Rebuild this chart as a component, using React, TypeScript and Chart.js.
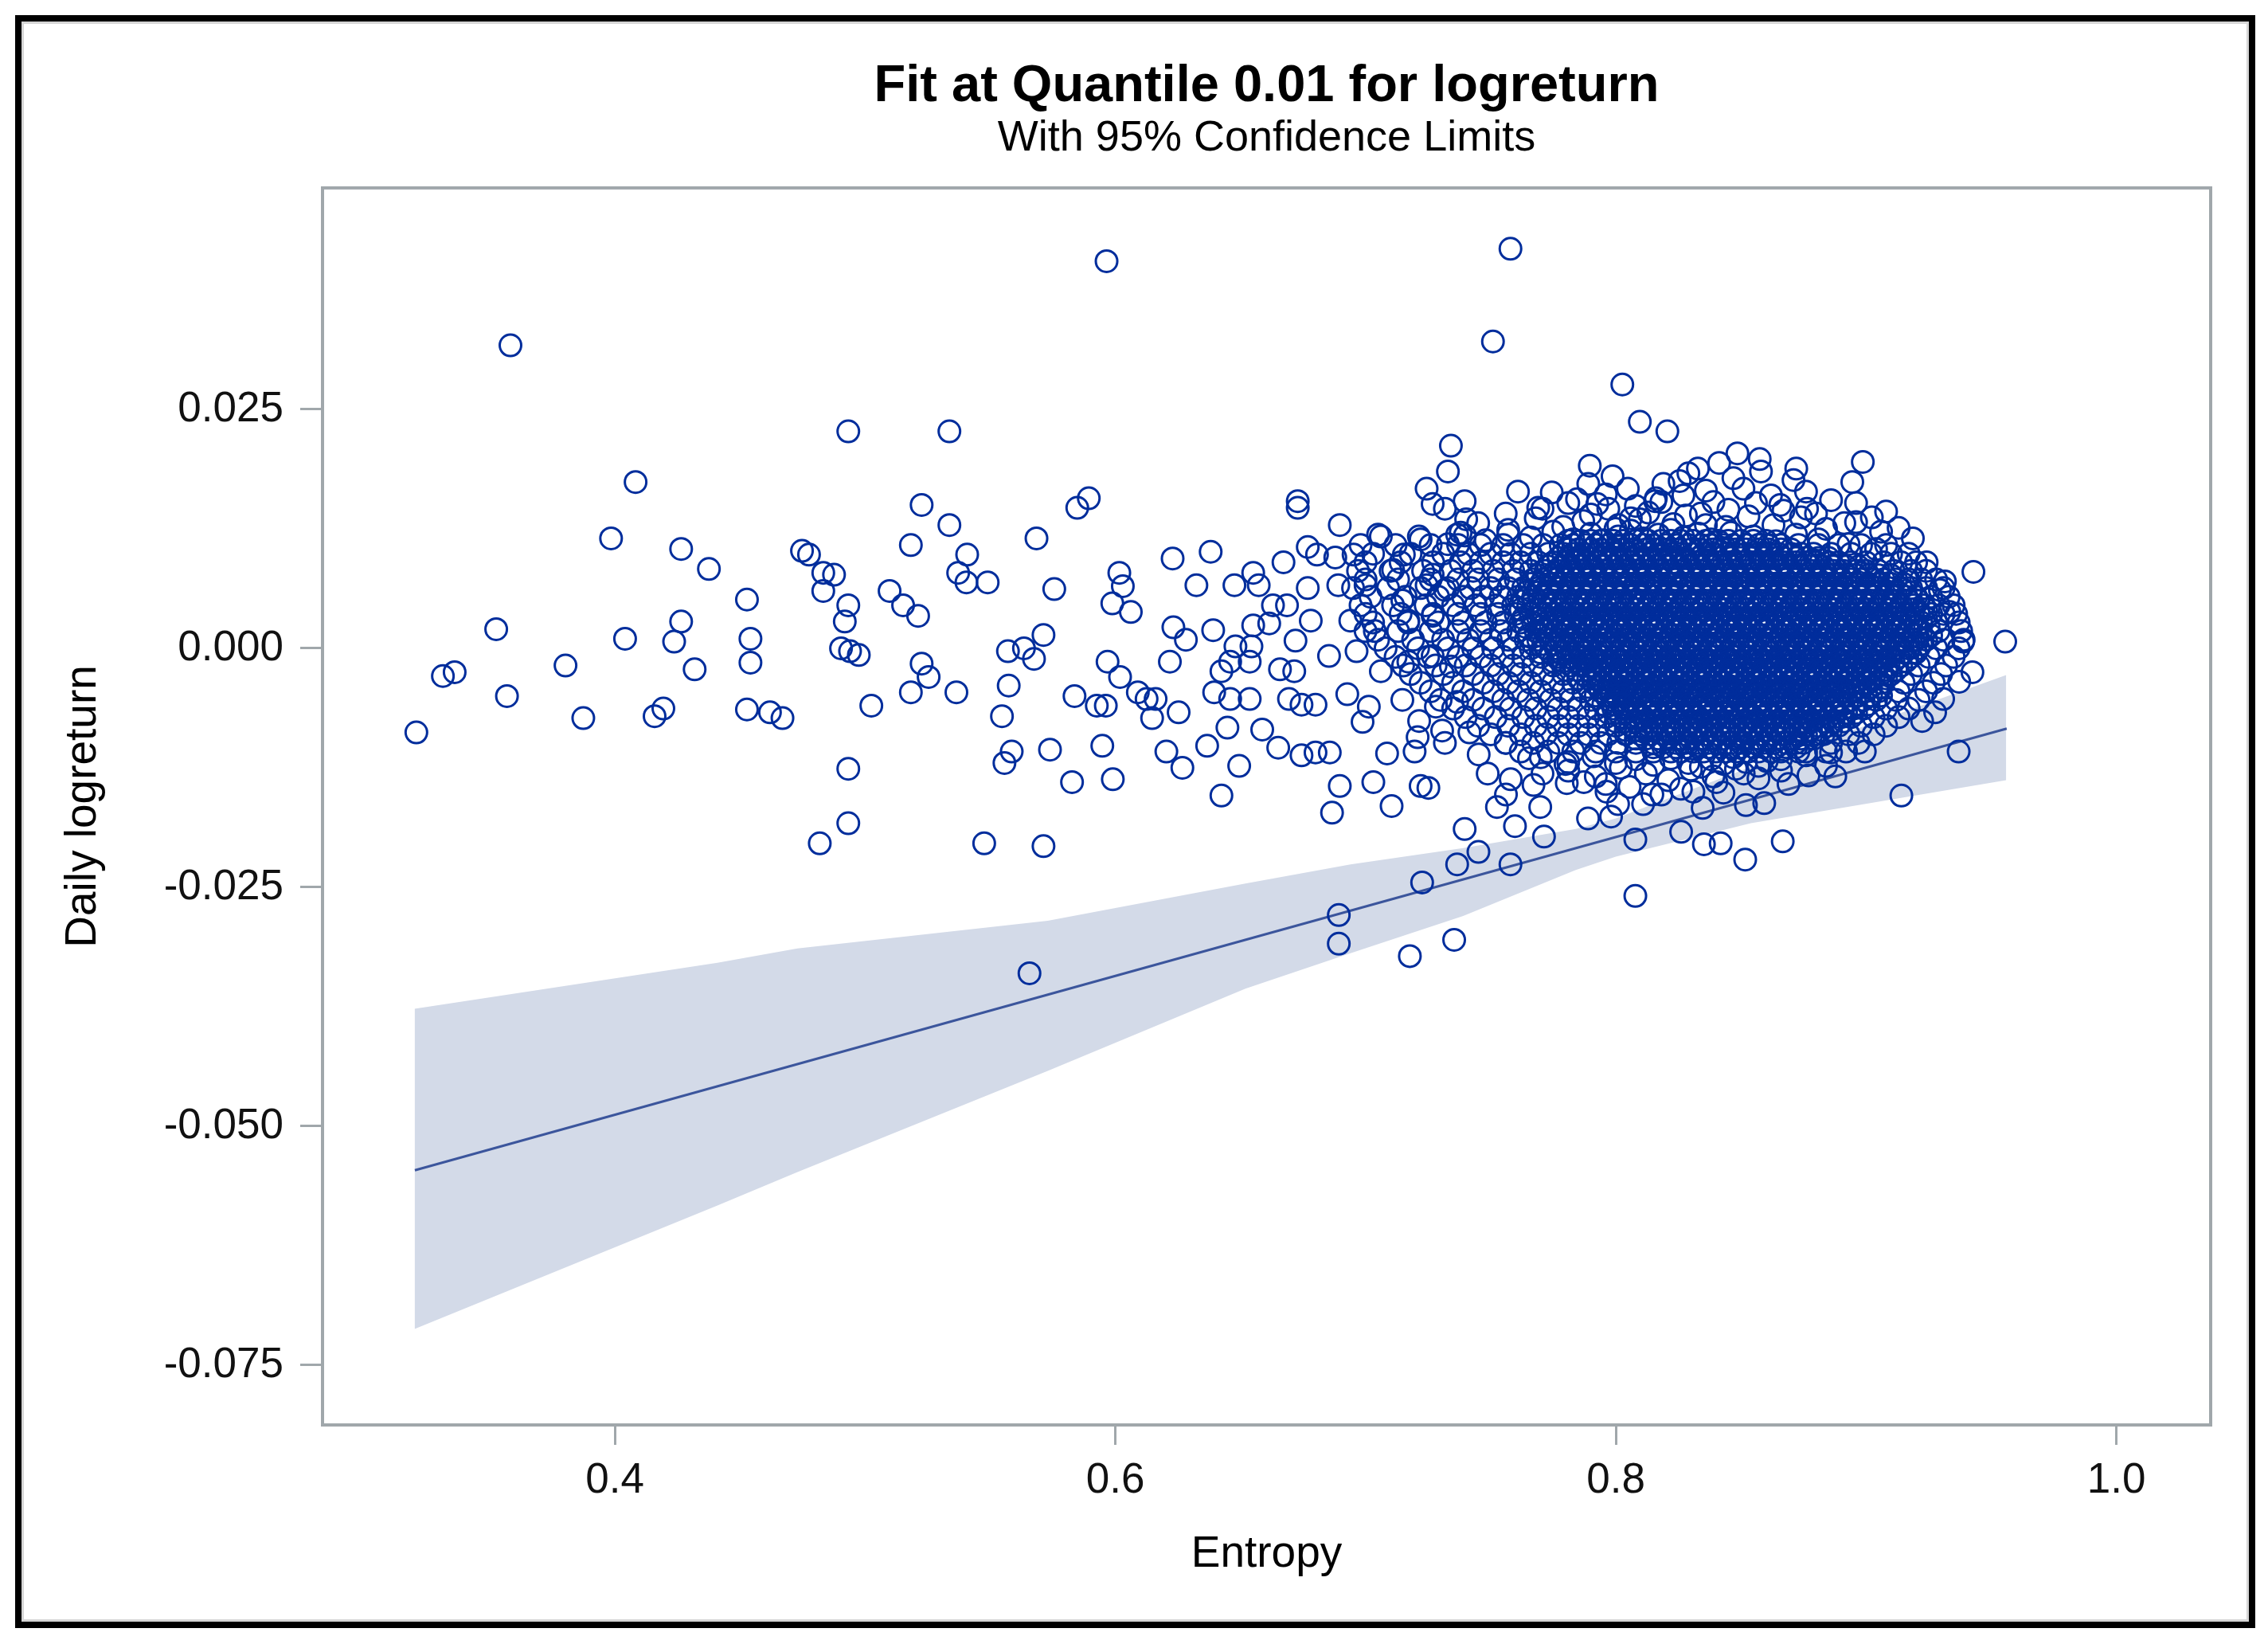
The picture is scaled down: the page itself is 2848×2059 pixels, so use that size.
import { useEffect, useRef } from "react"
import { Chart, registerables } from "chart.js"

Chart.register(...registerables)

Chart.defaults.font.family = "'Liberation Sans', Arial, Helvetica, sans-serif"

const entropyTicks = [0.4, 0.6, 0.8, 1.0]
const returnTicks = [0.025, 0, -0.025, -0.05, -0.075]

// quantile 0.01 regression line (end points)
const fitEntropy = [0.3201, 0.9562]
const fitReturn = [-0.0546, -0.0084]

// 95% confidence limits
const bandEntropy = [0.320, 0.441, 0.473, 0.573, 0.652, 0.694, 0.739, 0.784, 0.800, 0.854, 0.956]
const bandUpper = [-0.0377, -0.0329, -0.0314, -0.0285, -0.0246, -0.0226, -0.0209, -0.0189, -0.0178, -0.0124, -0.0028]
const bandLower = [-0.0712, -0.0583, -0.0548, -0.0442, -0.0356, -0.0319, -0.0280, -0.0232, -0.0218, -0.0183, -0.0138]

// separate observations: [entropy, daily logreturn]
const observations: [number, number][] = [
  [0.3207, -0.0088], [0.3313, -0.0029], [0.336, -0.0025], [0.3526, 0.002], [0.3569, -0.005], [0.3583, 0.0317],
  [0.3803, -0.0018], [0.3874, -0.0073], [0.3985, 0.0115], [0.4041, 0.001], [0.4083, 0.0174], [0.4159, -0.0071],
  [0.4194, -0.0063], [0.4237, 0.0007], [0.4265, 0.0104], [0.4265, 0.0028], [0.4319, -0.0022], [0.4376, 0.0083],
  [0.4528, 0.0051], [0.4542, 0.001], [0.4542, -0.0015], [0.4528, -0.0064], [0.462, -0.0067], [0.467, -0.0073],
  [0.4748, 0.0102], [0.4776, 0.0098], [0.4819, -0.0204], [0.4833, 0.0079], [0.4876, 0.0077], [0.4833, 0.006],
  [0.4933, 0.0045], [0.4919, 0.0028], [0.4904, 0.0], [0.494, -0.0003], [0.4975, -0.0007], [0.4933, 0.0227],
  [0.4933, -0.0126], [0.4933, -0.0183], [0.5025, -0.006],
  [0.5098, 0.006], [0.5152, 0.0045], [0.5183, 0.0108], [0.5183, -0.0046], [0.5212, 0.0034], [0.5226, 0.015],
  [0.5226, -0.0016], [0.5254, -0.003], [0.5337, 0.0227], [0.5337, 0.0129], [0.5365, -0.0046], [0.5372, 0.0079],
  [0.5405, 0.0069], [0.5408, 0.0098], [0.5476, -0.0204], [0.549, 0.0069], [0.5547, -0.0071], [0.5557, -0.012],
  [0.5571, -0.0003], [0.5574, -0.0039], [0.5586, -0.0108], [0.5635, 0.0], [0.5657, -0.034], [0.5675, -0.0011],
  [0.5685, 0.0115], [0.5713, 0.0014], [0.5713, -0.0207], [0.5739, -0.0106], [0.5756, 0.0062], [0.5827, -0.014],
  [0.5837, -0.005], [0.5848, 0.0147], [0.5894, 0.0157], [0.5926, -0.006], [0.5948, -0.0102], [0.5962, -0.006],
  [0.5965, 0.0405], [0.5969, -0.0014], [0.5988, 0.0047], [0.599, -0.0137], [0.6016, 0.0079], [0.6019, -0.003],
  [0.603, 0.0065], [0.6062, 0.0038], [0.609, -0.0046], [0.6125, -0.0053], [0.6147, -0.0073], [0.6161, -0.0053],
  [0.6204, -0.0108], [0.6218, -0.0014], [0.6229, 0.0094], [0.6232, 0.0022], [0.6253, -0.0067], [0.6268, -0.0125],
  [0.6282, 0.0009], [0.6324, 0.0066], [0.6367, -0.0102], [0.6381, 0.0101], [0.6391, 0.0019], [0.6395, -0.0046],
  [0.6424, -0.0154], [0.6424, -0.0024], [0.6448, -0.0083], [0.6459, -0.0053], [0.6459, -0.0014], [0.6476, 0.0066],
  [0.648, 0.0002], [0.6495, -0.0123], [0.6537, -0.0053], [0.6537, -0.0014], [0.6544, 0.0002], [0.6551, 0.0079],
  [0.6551, 0.0024], [0.6573, 0.0066], [0.6587, -0.0085], [0.6615, 0.0026], [0.663, 0.0045], [0.6651, -0.0104],
  [0.6658, -0.0022], [0.6672, 0.009], [0.6686, 0.0045], [0.6694, -0.0053], [0.6715, -0.0024], [0.672, 0.0008],
  [0.6729, 0.0154], [0.6729, 0.0147], [0.6744, -0.0059], [0.6744, -0.0112], [0.6769, 0.0106], [0.6769, 0.0063],
  [0.6781, 0.0029], [0.68, -0.0059], [0.68, -0.0109], [0.6806, 0.0098], [0.6854, -0.0008], [0.6857, -0.0109],
  [0.6866, -0.0172], [0.6879, 0.0095], [0.6891, 0.0066], [0.6893, -0.0279], [0.6893, -0.0309], [0.6897, 0.0129],
  [0.6897, -0.0144], [0.6927, -0.0048], [0.6939, 0.0029], [0.6952, 0.0098], [0.6964, -0.0003], [0.6988, -0.0077],
  [0.7, 0.0066], [0.7013, -0.0061], [0.7031, -0.014], [0.7037, 0.0018], [0.7061, 0.0117], [0.7061, -0.0024],
  [0.7086, -0.011], [0.7104, -0.0165], [0.711, 0.0082], [0.7147, 0.005], [0.7147, -0.0054], [0.7153, 0.0098],
  [0.7171, 0.0029], [0.7171, -0.0014], [0.7177, -0.0322], [0.7196, -0.0108], [0.7208, -0.0093], [0.7213, 0.0117],
  [0.7214, -0.0076], [0.722, -0.0144], [0.7226, -0.0245], [0.7244, 0.0066], [0.7244, 0.0167], [0.7251, -0.0146],
  [0.7268, 0.0077], [0.7268, 0.0034], [0.7268, -0.0008], [0.7268, 0.0151], [0.7281, -0.0061], [0.7306, -0.0086],
  [0.7317, 0.0061], [0.7317, 0.0146], [0.7317, -0.0099], [0.7329, 0.0185], [0.7329, 0.0109], [0.7341, 0.0212],
  [0.7341, -0.0019], [0.7354, -0.0305], [0.7366, -0.0226], [0.7366, 0.0119], [0.7366, -0.0056], [0.7396, -0.0189],
  [0.7396, 0.0154], [0.7397, 0.0118], [0.7402, 0.0135], [0.7415, -0.0088], [0.7451, -0.0213], [0.7452, -0.0111],
  [0.7488, -0.0131], [0.7509, 0.0321], [0.7525, -0.0166], [0.7561, -0.0153], [0.7561, -0.0099], [0.7579, 0.0418],
  [0.7579, -0.0226], [0.758, -0.0137], [0.7597, -0.0186], [0.7609, 0.0164], [0.7653, -0.0115], [0.7671, -0.0143],
  [0.7698, -0.0166], [0.7707, 0.0146], [0.7707, -0.0131], [0.7713, -0.0197], [0.7744, 0.0163], [0.7799, -0.0121],
  [0.7804, -0.0141], [0.7845, 0.0156], [0.7872, -0.014], [0.7889, -0.0178], [0.789, 0.0172], [0.7896, 0.0191],
  [0.7926, 0.0151], [0.7963, -0.015], [0.7981, -0.0176], [0.7987, 0.018], [0.7999, 0.0125], [0.8009, -0.0163],
  [0.8026, 0.0276], [0.8048, 0.0167], [0.8055, -0.0145], [0.8078, -0.02], [0.8078, -0.0259], [0.8096, 0.0237],
  [0.8096, 0.0135], [0.8109, -0.0163], [0.8146, -0.0153], [0.8157, 0.0154], [0.8182, 0.0153], [0.8182, -0.0153],
  [0.8206, 0.0227], [0.8255, 0.0175], [0.8261, -0.0192], [0.831, -0.015], [0.8328, 0.0188], [0.8347, -0.0167],
  [0.8352, -0.0205], [0.8402, -0.014], [0.8413, 0.0194], [0.8419, -0.0204], [0.8486, 0.0204], [0.8511, -0.0131],
  [0.8517, -0.0221], [0.852, -0.0164], [0.8575, 0.0198], [0.8593, -0.0162], [0.8603, -0.0118], [0.8657, 0.015],
  [0.8667, -0.0202], [0.8721, 0.0188], [0.873, -0.0108], [0.8764, 0.0146], [0.8877, -0.0134], [0.8913, 0.0131],
  [0.8945, 0.0174], [0.8987, 0.0195], [0.8995, -0.0108], [0.9023, 0.0137], [0.9141, -0.0154], [0.9187, 0.0115],
  [0.9224, -0.0076], [0.9242, 0.009], [0.9276, -0.0067], [0.9295, 0.0061], [0.9308, -0.0053], [0.9315, 0.007],
  [0.9333, 0.0038], [0.937, -0.0108], [0.9372, -0.0035], [0.9388, 0.0007], [0.9425, -0.0025], [0.9429, 0.008],
  [0.9556, 0.0007],
  // upper edge of the dense cloud
  [0.705, 0.0119], [0.722, 0.0114], [0.738, 0.0121], [0.748, 0.0113], [0.757, 0.0119], [0.766, 0.0116],
  [0.775, 0.0122], [0.783, 0.0114], [0.79, 0.012], [0.795, 0.0113], [0.801, 0.0117], [0.806, 0.0123],
  [0.811, 0.0115], [0.817, 0.0119], [0.822, 0.0124], [0.827, 0.0116], [0.833, 0.012], [0.838, 0.0114],
  [0.846, 0.0121], [0.855, 0.0117], [0.864, 0.0112], [0.872, 0.0119], [0.881, 0.0114], [0.893, 0.0109],
  [0.904, 0.0104],
  [0.745, 0.0131], [0.757, 0.0124], [0.768, 0.0136], [0.779, 0.0127], [0.79, 0.014], [0.801, 0.0129],
  [0.813, 0.0142], [0.823, 0.013], [0.834, 0.0141], [0.844, 0.0127], [0.853, 0.0138], [0.863, 0.0129],
  [0.874, 0.0137], [0.884, 0.0125], [0.896, 0.0132], [0.906, 0.0122], [0.781, 0.0152], [0.796, 0.0161],
  [0.808, 0.0149], [0.827, 0.016], [0.839, 0.0153], [0.851, 0.0167], [0.862, 0.016], [0.876, 0.0164],
  [0.886, 0.0155], [0.847, 0.0178], [0.819, 0.0172], [0.858, 0.0185], [0.896, 0.0152], [0.908, 0.0143],
  [0.913, 0.0126], [0.769, 0.0147], [0.756, 0.0141], [0.829, 0.0183], [0.787, 0.0133], [0.797, 0.0146],
  [0.806, 0.0136], [0.816, 0.0157], [0.828, 0.0139], [0.836, 0.0165], [0.845, 0.0145], [0.856, 0.0152],
  [0.867, 0.0144], [0.871, 0.0176], [0.88, 0.0141], [0.836, 0.0129],
  // lower edge of the dense cloud
  [0.77, -0.0114], [0.781, -0.0119], [0.791, -0.0113], [0.8, -0.012], [0.808, -0.0116], [0.815, -0.0122],
  [0.822, -0.0115], [0.829, -0.012], [0.834, -0.0124], [0.838, -0.0116], [0.843, -0.0121], [0.847, -0.0114],
  [0.852, -0.0119], [0.857, -0.0123], [0.866, -0.0116], [0.876, -0.0112], [0.886, -0.0109],
  [0.781, -0.0128], [0.792, -0.0134], [0.802, -0.0125], [0.812, -0.0131], [0.821, -0.0138], [0.83, -0.0127],
  [0.839, -0.0134], [0.848, -0.0126], [0.857, -0.0136], [0.866, -0.0128], [0.877, -0.0133], [0.826, -0.0147],
  [0.843, -0.0151], [0.869, -0.0142], [0.796, -0.0142], [0.884, -0.0123],
]

// the dense cloud, read row by row: [daily logreturn, entropies on that row]
const clusterRows: [number, number[]][] = [
  [0.0108, [0.698, 0.712, 0.726, 0.737, 0.746, 0.755, 0.763, 0.771, 0.778, 0.783, 0.788, 0.792, 0.797, 0.801, 0.806, 0.811, 0.815, 0.82, 0.824, 0.829, 0.834, 0.838, 0.843, 0.847, 0.852, 0.857, 0.861, 0.866, 0.873, 0.881, 0.889, 0.898, 0.908]],
  [0.0099, [0.703, 0.718, 0.731, 0.741, 0.75, 0.758, 0.766, 0.773, 0.779, 0.783, 0.787, 0.792, 0.796, 0.8, 0.805, 0.809, 0.813, 0.818, 0.822, 0.826, 0.831, 0.835, 0.839, 0.844, 0.848, 0.852, 0.857, 0.861, 0.865, 0.87, 0.874, 0.879, 0.886, 0.894, 0.902, 0.91, 0.917]],
  [0.009, [0.7, 0.714, 0.727, 0.738, 0.746, 0.755, 0.762, 0.769, 0.775, 0.78, 0.784, 0.788, 0.793, 0.797, 0.802, 0.806, 0.81, 0.815, 0.819, 0.823, 0.828, 0.832, 0.837, 0.841, 0.845, 0.85, 0.854, 0.858, 0.863, 0.867, 0.872, 0.876, 0.88, 0.885, 0.889, 0.894, 0.9, 0.907, 0.914, 0.92]],
  [0.0081, [0.697, 0.71, 0.723, 0.734, 0.743, 0.751, 0.759, 0.766, 0.772, 0.777, 0.781, 0.786, 0.79, 0.795, 0.799, 0.803, 0.808, 0.812, 0.817, 0.821, 0.825, 0.83, 0.834, 0.839, 0.843, 0.847, 0.852, 0.856, 0.861, 0.865, 0.869, 0.874, 0.878, 0.883, 0.887, 0.891, 0.896, 0.9, 0.905, 0.911, 0.918, 0.924]],
  [0.0072, [0.7, 0.713, 0.726, 0.737, 0.745, 0.753, 0.76, 0.767, 0.771, 0.776, 0.78, 0.784, 0.789, 0.793, 0.797, 0.802, 0.806, 0.811, 0.815, 0.819, 0.824, 0.828, 0.832, 0.837, 0.841, 0.846, 0.85, 0.854, 0.859, 0.863, 0.868, 0.872, 0.876, 0.881, 0.885, 0.89, 0.894, 0.898, 0.903, 0.907, 0.912, 0.917, 0.922, 0.928]],
  [0.0063, [0.695, 0.709, 0.722, 0.733, 0.742, 0.75, 0.757, 0.763, 0.769, 0.773, 0.778, 0.782, 0.786, 0.791, 0.795, 0.799, 0.804, 0.808, 0.813, 0.817, 0.821, 0.826, 0.83, 0.835, 0.839, 0.843, 0.848, 0.852, 0.857, 0.861, 0.865, 0.87, 0.874, 0.879, 0.883, 0.887, 0.892, 0.896, 0.901, 0.905, 0.909, 0.914, 0.918, 0.924, 0.931]],
  [0.0054, [0.702, 0.716, 0.729, 0.739, 0.747, 0.754, 0.761, 0.767, 0.771, 0.775, 0.78, 0.784, 0.788, 0.793, 0.797, 0.802, 0.806, 0.81, 0.815, 0.819, 0.823, 0.828, 0.832, 0.837, 0.841, 0.845, 0.85, 0.854, 0.859, 0.863, 0.867, 0.872, 0.876, 0.881, 0.885, 0.889, 0.894, 0.898, 0.903, 0.907, 0.911, 0.916, 0.92, 0.926, 0.933]],
  [0.0045, [0.698, 0.711, 0.724, 0.735, 0.744, 0.752, 0.759, 0.765, 0.77, 0.774, 0.778, 0.783, 0.787, 0.791, 0.796, 0.8, 0.805, 0.809, 0.813, 0.818, 0.822, 0.826, 0.831, 0.835, 0.84, 0.844, 0.848, 0.853, 0.857, 0.862, 0.866, 0.87, 0.875, 0.879, 0.884, 0.888, 0.892, 0.897, 0.901, 0.906, 0.91, 0.914, 0.919, 0.923, 0.929, 0.935]],
  [0.0036, [0.7, 0.714, 0.727, 0.737, 0.746, 0.753, 0.76, 0.766, 0.771, 0.776, 0.78, 0.784, 0.789, 0.793, 0.798, 0.802, 0.806, 0.811, 0.815, 0.82, 0.824, 0.828, 0.833, 0.837, 0.842, 0.846, 0.85, 0.855, 0.859, 0.864, 0.868, 0.872, 0.877, 0.881, 0.886, 0.89, 0.894, 0.899, 0.903, 0.908, 0.912, 0.916, 0.921, 0.926, 0.931, 0.936]],
  [0.0027, [0.703, 0.717, 0.729, 0.739, 0.748, 0.755, 0.762, 0.767, 0.772, 0.777, 0.781, 0.786, 0.79, 0.794, 0.799, 0.803, 0.808, 0.812, 0.816, 0.821, 0.825, 0.83, 0.834, 0.838, 0.843, 0.847, 0.852, 0.856, 0.86, 0.865, 0.869, 0.874, 0.878, 0.882, 0.887, 0.891, 0.896, 0.9, 0.904, 0.909, 0.913, 0.918, 0.922, 0.928, 0.937]],
  [0.0018, [0.7, 0.713, 0.726, 0.737, 0.746, 0.754, 0.761, 0.768, 0.772, 0.776, 0.781, 0.785, 0.789, 0.794, 0.798, 0.803, 0.807, 0.811, 0.816, 0.82, 0.825, 0.829, 0.833, 0.838, 0.842, 0.847, 0.851, 0.855, 0.86, 0.864, 0.869, 0.873, 0.877, 0.882, 0.886, 0.891, 0.895, 0.899, 0.904, 0.908, 0.913, 0.917, 0.922, 0.929, 0.938]],
  [0.0009, [0.705, 0.719, 0.731, 0.741, 0.75, 0.757, 0.764, 0.769, 0.774, 0.778, 0.783, 0.787, 0.791, 0.796, 0.8, 0.805, 0.809, 0.813, 0.818, 0.822, 0.827, 0.831, 0.835, 0.84, 0.844, 0.849, 0.853, 0.857, 0.862, 0.866, 0.871, 0.875, 0.879, 0.884, 0.888, 0.893, 0.897, 0.901, 0.906, 0.91, 0.915, 0.919, 0.924, 0.931, 0.939]],
  [0.0, [0.708, 0.721, 0.733, 0.743, 0.751, 0.759, 0.766, 0.772, 0.776, 0.78, 0.785, 0.789, 0.794, 0.798, 0.802, 0.807, 0.811, 0.816, 0.82, 0.824, 0.829, 0.833, 0.838, 0.842, 0.846, 0.851, 0.855, 0.86, 0.864, 0.868, 0.873, 0.877, 0.882, 0.886, 0.89, 0.895, 0.899, 0.904, 0.908, 0.912, 0.917, 0.921, 0.928, 0.937]],
  [-0.0009, [0.712, 0.725, 0.737, 0.746, 0.755, 0.763, 0.77, 0.777, 0.781, 0.786, 0.79, 0.794, 0.799, 0.803, 0.808, 0.812, 0.816, 0.821, 0.825, 0.83, 0.834, 0.838, 0.843, 0.847, 0.852, 0.856, 0.86, 0.865, 0.869, 0.874, 0.878, 0.882, 0.887, 0.891, 0.896, 0.9, 0.904, 0.909, 0.913, 0.918, 0.925, 0.935]],
  [-0.0018, [0.715, 0.728, 0.74, 0.75, 0.759, 0.767, 0.775, 0.782, 0.786, 0.79, 0.795, 0.799, 0.804, 0.808, 0.812, 0.817, 0.821, 0.826, 0.83, 0.834, 0.839, 0.843, 0.848, 0.852, 0.856, 0.861, 0.865, 0.87, 0.874, 0.878, 0.883, 0.887, 0.892, 0.896, 0.9, 0.905, 0.909, 0.914, 0.921, 0.932]],
  [-0.0027, [0.718, 0.731, 0.743, 0.753, 0.762, 0.771, 0.779, 0.787, 0.791, 0.796, 0.8, 0.804, 0.809, 0.813, 0.818, 0.822, 0.826, 0.831, 0.835, 0.84, 0.844, 0.848, 0.853, 0.857, 0.862, 0.866, 0.87, 0.875, 0.879, 0.884, 0.888, 0.892, 0.897, 0.901, 0.906, 0.91, 0.918, 0.93]],
  [-0.0036, [0.722, 0.735, 0.747, 0.757, 0.766, 0.775, 0.783, 0.791, 0.795, 0.799, 0.804, 0.808, 0.813, 0.817, 0.821, 0.826, 0.83, 0.835, 0.839, 0.843, 0.848, 0.852, 0.857, 0.861, 0.865, 0.87, 0.874, 0.879, 0.883, 0.887, 0.892, 0.896, 0.901, 0.906, 0.915, 0.927]],
  [-0.0045, [0.726, 0.739, 0.751, 0.761, 0.77, 0.779, 0.787, 0.794, 0.798, 0.803, 0.807, 0.811, 0.816, 0.82, 0.825, 0.829, 0.833, 0.838, 0.842, 0.847, 0.851, 0.855, 0.86, 0.864, 0.869, 0.873, 0.877, 0.882, 0.886, 0.891, 0.895, 0.9, 0.905, 0.913, 0.924]],
  [-0.0054, [0.73, 0.743, 0.755, 0.765, 0.774, 0.782, 0.79, 0.797, 0.801, 0.805, 0.81, 0.814, 0.819, 0.823, 0.827, 0.832, 0.836, 0.841, 0.845, 0.849, 0.854, 0.858, 0.863, 0.867, 0.871, 0.876, 0.88, 0.885, 0.889, 0.894, 0.899, 0.904, 0.912, 0.921]],
  [-0.0063, [0.735, 0.747, 0.758, 0.768, 0.777, 0.785, 0.792, 0.799, 0.803, 0.808, 0.812, 0.816, 0.821, 0.825, 0.83, 0.834, 0.838, 0.843, 0.847, 0.852, 0.856, 0.86, 0.865, 0.869, 0.874, 0.878, 0.882, 0.887, 0.891, 0.895, 0.899, 0.908, 0.917]],
  [-0.0072, [0.74, 0.752, 0.763, 0.773, 0.781, 0.789, 0.796, 0.802, 0.806, 0.811, 0.815, 0.819, 0.824, 0.828, 0.833, 0.837, 0.841, 0.846, 0.85, 0.855, 0.859, 0.863, 0.868, 0.872, 0.877, 0.881, 0.885, 0.89, 0.894, 0.903, 0.913]],
  [-0.0081, [0.745, 0.757, 0.768, 0.777, 0.785, 0.793, 0.8, 0.806, 0.81, 0.815, 0.819, 0.823, 0.828, 0.832, 0.837, 0.841, 0.845, 0.85, 0.854, 0.859, 0.863, 0.867, 0.872, 0.876, 0.881, 0.885, 0.889, 0.898, 0.908]],
  [-0.009, [0.75, 0.762, 0.772, 0.781, 0.789, 0.797, 0.804, 0.81, 0.814, 0.819, 0.823, 0.828, 0.832, 0.836, 0.841, 0.845, 0.85, 0.854, 0.858, 0.863, 0.867, 0.872, 0.876, 0.88, 0.883, 0.893, 0.903]],
  [-0.0099, [0.756, 0.767, 0.777, 0.786, 0.794, 0.801, 0.808, 0.815, 0.819, 0.824, 0.828, 0.833, 0.837, 0.841, 0.846, 0.85, 0.855, 0.859, 0.863, 0.868, 0.872, 0.875, 0.886, 0.897]],
  [-0.0108, [0.762, 0.773, 0.783, 0.792, 0.8, 0.808, 0.815, 0.822, 0.826, 0.831, 0.835, 0.84, 0.844, 0.848, 0.853, 0.857, 0.862, 0.866, 0.876, 0.884, 0.892]],
]

// solid core of the cloud, rows lying between the rows above
const coreRows: [number, number[]][] = [
  [0.01125, [0.781, 0.786, 0.79, 0.794, 0.799, 0.803, 0.808, 0.813, 0.818, 0.822, 0.826, 0.831, 0.836, 0.841, 0.845, 0.85, 0.855, 0.86]],
  [0.01035, [0.781, 0.785, 0.79, 0.794, 0.799, 0.803, 0.807, 0.812, 0.816, 0.821, 0.825, 0.83, 0.834, 0.839, 0.843, 0.848, 0.852, 0.857, 0.861, 0.866, 0.87]],
  [0.00945, [0.777, 0.781, 0.785, 0.789, 0.794, 0.798, 0.802, 0.807, 0.811, 0.815, 0.82, 0.824, 0.828, 0.833, 0.837, 0.841, 0.846, 0.85, 0.854, 0.859, 0.863, 0.867, 0.872, 0.876, 0.881, 0.885]],
  [0.00855, [0.773, 0.778, 0.782, 0.786, 0.791, 0.795, 0.799, 0.804, 0.808, 0.812, 0.817, 0.821, 0.826, 0.83, 0.834, 0.839, 0.843, 0.847, 0.852, 0.856, 0.861, 0.865, 0.869, 0.874, 0.878, 0.883, 0.887, 0.892, 0.897]],
  [0.00765, [0.769, 0.774, 0.778, 0.783, 0.787, 0.791, 0.795, 0.8, 0.804, 0.809, 0.813, 0.817, 0.822, 0.826, 0.83, 0.835, 0.839, 0.843, 0.848, 0.852, 0.857, 0.861, 0.865, 0.87, 0.874, 0.879, 0.883, 0.887, 0.892, 0.896, 0.901, 0.905, 0.91]],
  [0.00675, [0.766, 0.77, 0.774, 0.778, 0.782, 0.787, 0.791, 0.795, 0.8, 0.804, 0.808, 0.813, 0.817, 0.822, 0.826, 0.83, 0.835, 0.839, 0.844, 0.848, 0.852, 0.857, 0.861, 0.866, 0.87, 0.874, 0.879, 0.883, 0.888, 0.892, 0.896, 0.901, 0.905, 0.91, 0.915]],
  [0.00585, [0.764, 0.769, 0.773, 0.777, 0.782, 0.786, 0.79, 0.795, 0.799, 0.804, 0.808, 0.812, 0.817, 0.821, 0.825, 0.83, 0.834, 0.839, 0.843, 0.847, 0.852, 0.856, 0.861, 0.865, 0.869, 0.874, 0.878, 0.883, 0.887, 0.891, 0.896, 0.9, 0.904, 0.909, 0.913, 0.918]],
  [0.00495, [0.763, 0.767, 0.772, 0.776, 0.78, 0.785, 0.789, 0.793, 0.798, 0.802, 0.807, 0.811, 0.815, 0.82, 0.824, 0.829, 0.833, 0.837, 0.842, 0.846, 0.851, 0.855, 0.859, 0.864, 0.868, 0.873, 0.877, 0.881, 0.886, 0.89, 0.895, 0.899, 0.903, 0.908, 0.912, 0.917, 0.921]],
  [0.00405, [0.762, 0.768, 0.773, 0.778, 0.782, 0.786, 0.791, 0.795, 0.8, 0.804, 0.808, 0.813, 0.817, 0.822, 0.826, 0.83, 0.835, 0.839, 0.844, 0.848, 0.852, 0.857, 0.861, 0.866, 0.87, 0.875, 0.879, 0.883, 0.888, 0.892, 0.897, 0.901, 0.905, 0.91, 0.914, 0.919, 0.924]],
  [0.00315, [0.763, 0.769, 0.774, 0.778, 0.783, 0.787, 0.791, 0.796, 0.8, 0.805, 0.809, 0.813, 0.818, 0.822, 0.827, 0.831, 0.835, 0.84, 0.844, 0.849, 0.853, 0.857, 0.862, 0.866, 0.871, 0.875, 0.879, 0.884, 0.888, 0.893, 0.897, 0.901, 0.906, 0.91, 0.915, 0.919, 0.924]],
  [0.00225, [0.764, 0.77, 0.774, 0.779, 0.783, 0.787, 0.792, 0.796, 0.801, 0.805, 0.809, 0.814, 0.818, 0.823, 0.827, 0.831, 0.836, 0.84, 0.845, 0.849, 0.853, 0.858, 0.862, 0.867, 0.871, 0.875, 0.88, 0.884, 0.889, 0.893, 0.897, 0.902, 0.906, 0.911, 0.915, 0.92, 0.925]],
  [0.00135, [0.765, 0.77, 0.774, 0.779, 0.783, 0.787, 0.792, 0.796, 0.8, 0.805, 0.809, 0.814, 0.818, 0.822, 0.827, 0.831, 0.836, 0.84, 0.845, 0.849, 0.853, 0.858, 0.862, 0.866, 0.871, 0.875, 0.88, 0.884, 0.889, 0.893, 0.897, 0.902, 0.906, 0.911, 0.915, 0.92, 0.926]],
  [0.00045, [0.767, 0.771, 0.776, 0.78, 0.785, 0.789, 0.794, 0.798, 0.802, 0.807, 0.811, 0.816, 0.82, 0.825, 0.829, 0.833, 0.838, 0.842, 0.847, 0.851, 0.855, 0.86, 0.864, 0.869, 0.873, 0.877, 0.882, 0.886, 0.891, 0.895, 0.899, 0.904, 0.908, 0.913, 0.917, 0.922]],
  [-0.00045, [0.77, 0.774, 0.778, 0.783, 0.787, 0.792, 0.796, 0.801, 0.805, 0.81, 0.814, 0.818, 0.823, 0.827, 0.832, 0.836, 0.84, 0.845, 0.849, 0.854, 0.858, 0.862, 0.867, 0.871, 0.876, 0.88, 0.884, 0.889, 0.893, 0.898, 0.902, 0.906, 0.911, 0.915, 0.92]],
  [-0.00135, [0.775, 0.779, 0.784, 0.788, 0.792, 0.797, 0.801, 0.806, 0.81, 0.814, 0.819, 0.823, 0.828, 0.832, 0.836, 0.841, 0.845, 0.85, 0.854, 0.858, 0.863, 0.867, 0.872, 0.876, 0.88, 0.885, 0.889, 0.894, 0.898, 0.902, 0.907, 0.911, 0.916]],
  [-0.00225, [0.78, 0.784, 0.789, 0.793, 0.798, 0.802, 0.806, 0.811, 0.815, 0.82, 0.824, 0.828, 0.833, 0.837, 0.842, 0.846, 0.85, 0.855, 0.859, 0.864, 0.868, 0.872, 0.877, 0.881, 0.886, 0.89, 0.894, 0.899, 0.903, 0.908, 0.912]],
  [-0.00315, [0.785, 0.789, 0.793, 0.798, 0.802, 0.806, 0.811, 0.815, 0.819, 0.824, 0.828, 0.833, 0.837, 0.841, 0.846, 0.85, 0.855, 0.859, 0.863, 0.868, 0.872, 0.877, 0.881, 0.885, 0.89, 0.894, 0.899, 0.903, 0.908]],
  [-0.00405, [0.789, 0.793, 0.797, 0.801, 0.805, 0.809, 0.814, 0.818, 0.823, 0.827, 0.831, 0.836, 0.84, 0.845, 0.849, 0.853, 0.858, 0.862, 0.867, 0.871, 0.875, 0.88, 0.884, 0.889, 0.893, 0.897, 0.902, 0.906]],
  [-0.00495, [0.792, 0.796, 0.8, 0.803, 0.808, 0.812, 0.817, 0.821, 0.825, 0.83, 0.834, 0.839, 0.843, 0.847, 0.852, 0.856, 0.861, 0.865, 0.869, 0.874, 0.878, 0.883, 0.887, 0.892, 0.897, 0.902, 0.906]],
  [-0.00585, [0.795, 0.799, 0.803, 0.807, 0.812, 0.816, 0.821, 0.825, 0.829, 0.834, 0.838, 0.843, 0.847, 0.851, 0.856, 0.86, 0.865, 0.869, 0.873, 0.878, 0.882, 0.887, 0.891, 0.896, 0.901]],
  [-0.00675, [0.797, 0.801, 0.804, 0.809, 0.813, 0.817, 0.822, 0.826, 0.831, 0.835, 0.839, 0.844, 0.848, 0.853, 0.857, 0.861, 0.866, 0.87, 0.875, 0.879, 0.883, 0.888, 0.892, 0.896]],
  [-0.00765, [0.8, 0.804, 0.808, 0.812, 0.817, 0.821, 0.826, 0.83, 0.834, 0.839, 0.843, 0.848, 0.852, 0.856, 0.861, 0.865, 0.87, 0.874, 0.878, 0.883, 0.887, 0.891]],
  [-0.00855, [0.804, 0.808, 0.812, 0.816, 0.821, 0.825, 0.83, 0.834, 0.838, 0.843, 0.847, 0.852, 0.856, 0.86, 0.865, 0.869, 0.874, 0.878, 0.882, 0.886]],
  [-0.00945, [0.808, 0.812, 0.817, 0.821, 0.826, 0.83, 0.835, 0.839, 0.843, 0.848, 0.852, 0.857, 0.861, 0.865, 0.87, 0.874, 0.879]],
  [-0.01035, [0.815, 0.819, 0.824, 0.828, 0.833, 0.837, 0.842, 0.846, 0.85, 0.855, 0.859, 0.864, 0.868, 0.872]],
]

const MARKER = "#002d9c"
const FRAME_GRAY = "#a0a7ab"

const framePlugin = {
  id: "sasFrame",
  beforeDraw(chart: any) {
    const { ctx, width, height } = chart
    ctx.save()
    ctx.fillStyle = "#ffffff"
    ctx.fillRect(0, 0, width, height)
    ctx.restore()
  },
  afterDraw(chart: any) {
    const { ctx, chartArea: a } = chart
    ctx.save()
    // plot wall border
    ctx.strokeStyle = FRAME_GRAY
    ctx.lineWidth = 4
    ctx.strokeRect(a.left, a.top, a.right - a.left, a.bottom - a.top)
    // outer black frame with a light inner line
    ctx.strokeStyle = "#000000"
    ctx.lineWidth = 8
    ctx.strokeRect(23, 23, 2805, 2017)
    ctx.strokeStyle = "#d6d6d6"
    ctx.lineWidth = 3
    ctx.strokeRect(28.5, 28.5, 2794, 2006)
    ctx.restore()
  },
}

export default function App() {
  const canvasRef = useRef<HTMLCanvasElement | null>(null)
  const chartRef = useRef<Chart | null>(null)

  useEffect(() => {
    if (!canvasRef.current) return
    const ctx = canvasRef.current.getContext("2d")
    if (!ctx) return

    if (chartRef.current) {
      chartRef.current.destroy()
    }

    const points = [
      ...observations.map(([x, y]) => ({ x, y })),
      ...clusterRows.flatMap(([y, xs]) => xs.map((x) => ({ x, y }))),
      ...coreRows.flatMap(([y, xs]) => xs.map((x) => ({ x, y }))),
    ]

    chartRef.current = new Chart(ctx, {
      type: "scatter",
      data: {
        datasets: [
          {
            label: "logreturn",
            data: points,
            pointStyle: "circle",
            pointRadius: 13.5,
            pointBorderWidth: 3,
            pointBackgroundColor: "rgba(0,0,0,0)",
            pointBorderColor: MARKER,
            order: 0,
          },
          {
            type: "line",
            label: "Fit",
            data: fitEntropy.map((x, i) => ({ x, y: fitReturn[i] })),
            borderColor: "#3b559c",
            borderWidth: 3,
            pointRadius: 0,
            fill: false,
            order: 1,
          },
          {
            type: "line",
            label: "Upper",
            data: bandEntropy.map((x, i) => ({ x, y: bandUpper[i] })),
            borderWidth: 0,
            borderColor: "rgba(0,0,0,0)",
            backgroundColor: "#d3dae8",
            pointRadius: 0,
            fill: "+1",
            order: 2,
          },
          {
            type: "line",
            label: "Lower",
            data: bandEntropy.map((x, i) => ({ x, y: bandLower[i] })),
            borderWidth: 0,
            borderColor: "rgba(0,0,0,0)",
            pointRadius: 0,
            fill: false,
            order: 2,
          },
        ],
      } as any,
      options: {
        responsive: true,
        maintainAspectRatio: false,
        animation: false,
        layout: { padding: { left: 0, right: 72, top: 0, bottom: 0 } },
        plugins: {
          legend: { display: false },
          tooltip: { enabled: false },
          title: {
            display: true,
            text: "Fit at Quantile 0.01 for logreturn",
            color: "#000",
            fullSize: false,
            font: { size: 65, weight: "bold", lineHeight: 1.1 },
            padding: { top: 73, bottom: 0 },
          },
          subtitle: {
            display: true,
            text: "With 95% Confidence Limits",
            color: "#000",
            fullSize: false,
            font: { size: 54, lineHeight: 1.1 },
            padding: { top: 0, bottom: 32 },
          },
        },
        scales: {
          x: {
            type: "linear",
            min: 0.2832,
            max: 1.0377,
            afterBuildTicks: (scale: any) => {
              scale.ticks = entropyTicks.map((v) => ({ value: v }))
            },
            afterFit: (scale: any) => {
              scale.height = 270
            },
            border: { display: false },
            grid: {
              drawOnChartArea: false,
              drawTicks: true,
              tickLength: 25,
              tickWidth: 3,
              tickColor: FRAME_GRAY,
            },
            ticks: {
              padding: 14,
              color: "#111",
              autoSkip: false,
              maxRotation: 0,
              font: { size: 53 },
              callback: (v: any) => Number(v).toFixed(1),
            },
            title: {
              display: true,
              text: "Entropy",
              color: "#000",
              font: { size: 55 },
              padding: { top: 0, bottom: 74 },
            },
          },
          y: {
            type: "linear",
            min: -0.08125,
            max: 0.04817,
            afterBuildTicks: (scale: any) => {
              scale.ticks = returnTicks.map((v) => ({ value: v }))
            },
            afterFit: (scale: any) => {
              scale.width = 405
            },
            border: { display: false },
            grid: {
              drawOnChartArea: false,
              drawTicks: true,
              tickLength: 28,
              tickWidth: 3,
              tickColor: FRAME_GRAY,
            },
            ticks: {
              padding: 21,
              color: "#111",
              autoSkip: false,
              font: { size: 53 },
              callback: (v: any) => Number(v).toFixed(3),
            },
            title: {
              display: true,
              text: "Daily logreturn",
              color: "#000",
              font: { size: 55 },
              padding: { top: 72, bottom: 0 },
            },
          },
        },
      },
      plugins: [framePlugin],
    })

    return () => {
      if (chartRef.current) {
        chartRef.current.destroy()
        chartRef.current = null
      }
    }
  }, [])

  return (
    <div
      style={{
        position: "absolute",
        left: 0,
        top: 0,
        width: 2848,
        height: 2059,
        background: "#fff",
      }}
    >
      <canvas ref={canvasRef}></canvas>
    </div>
  )
}
